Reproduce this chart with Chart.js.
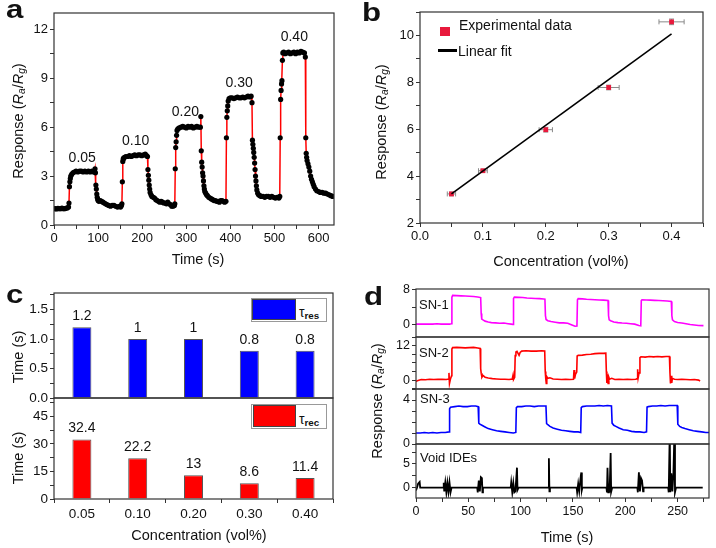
<!DOCTYPE html>
<html>
<head>
<meta charset="utf-8">
<script src="https://cdn.jsdelivr.net/npm/chart.js@4.4.0/dist/chart.umd.min.js"></script>
<style>
body{margin:0;width:716px;height:548px;position:relative;background:#fff;font-family:'Liberation Sans',Arial,sans-serif;color:#111;overflow:hidden}
canvas{position:absolute}
.t{position:absolute;white-space:nowrap;line-height:1}
.rot{transform:translate(-50%,-50%) rotate(-90deg);font-size:14.5px}
.ctr{transform:translate(-50%,-50%);font-size:14.5px}
.lft{transform:translate(0,-50%)}
.let{font-weight:bold;font-size:26px;transform:scaleX(1.2);transform-origin:0 0}
sub{font-size:70%;vertical-align:-0.25em;line-height:0}
.box{position:absolute;border:1px solid #999;background:#fff}
.sw{position:absolute;border:1px solid #444}
</style>
</head>
<body>
<canvas id="ca"></canvas>
<canvas id="cb"></canvas>
<canvas id="cc1"></canvas>
<canvas id="cc2"></canvas>
<canvas id="cd1"></canvas>
<canvas id="cd2"></canvas>
<canvas id="cd3"></canvas>
<canvas id="cd4"></canvas>

<!-- panel letters -->
<div class="t let" style="left:6px;top:-4px">a</div>
<div class="t let" style="left:362px;top:-1px">b</div>
<div class="t let" style="left:6px;top:281px">c</div>
<div class="t let" style="left:364px;top:283px">d</div>

<!-- axis titles -->
<div class="t rot" style="left:18px;top:121px">Response (<i>R</i><sub><i>a</i></sub>/<i>R</i><sub><i>g</i></sub>)</div>
<div class="t ctr" style="left:198px;top:259px">Time (s)</div>
<div class="t rot" style="left:381px;top:122px">Response (<i>R</i><sub><i>a</i></sub>/<i>R</i><sub><i>g</i></sub>)</div>
<div class="t ctr" style="left:561px;top:261px">Concentration (vol%)</div>
<div class="t rot" style="left:18px;top:357px">Time (s)</div>
<div class="t rot" style="left:18px;top:458px">Time (s)</div>
<div class="t ctr" style="left:199px;top:535px">Concentration (vol%)</div>
<div class="t rot" style="left:377px;top:401px">Response (<i>R</i><sub><i>a</i></sub>/<i>R</i><sub><i>g</i></sub>)</div>
<div class="t ctr" style="left:567px;top:537px">Time (s)</div>

<!-- panel b legend -->
<div style="position:absolute;left:440px;top:27px;width:10px;height:9px;background:#e8193c"></div>
<div class="t lft" style="left:459px;top:25px;font-size:14px">Experimental data</div>
<div style="position:absolute;left:438px;top:49px;width:19px;height:3px;background:#000"></div>
<div class="t lft" style="left:458px;top:51px;font-size:14px">Linear fit</div>

<!-- panel c legends -->
<div class="box" style="left:251px;top:298px;width:74px;height:22px"></div>
<div class="sw" style="left:252px;top:299px;width:42px;height:19px;background:#0000ff"></div>
<div class="t lft" style="left:299px;top:312px;font-size:14px">τ<sub><b>res</b></sub></div>
<div class="box" style="left:251px;top:404px;width:74px;height:23px"></div>
<div class="sw" style="left:253px;top:405px;width:41px;height:20px;background:#ff0000"></div>
<div class="t lft" style="left:299px;top:419px;font-size:14px">τ<sub><b>rec</b></sub></div>

<!-- panel d labels -->
<div class="t lft" style="left:419px;top:304px;font-size:13px">SN-1</div>
<div class="t lft" style="left:419px;top:352px;font-size:13px">SN-2</div>
<div class="t lft" style="left:420px;top:398px;font-size:13px">SN-3</div>
<div class="t lft" style="left:420px;top:457px;font-size:13px">Void IDEs</div>

<script>
// ---- panel a: dynamic response (time s, Ra/Rg)
const aSeries = [
  [0,1.0],[3,1.0],[6,0.98],[9,1.02],[12,1.0],[15,1.0],[18,1.03],[21,1.0],[24,1.0],[27,1.02],[30,1.05],[33,1.1],
  [34,1.35],[35,2.35],[36,2.65],[37,2.85],[38,3.0],[40,3.1],[43,3.2],[46,3.25],[50,3.3],[54,3.25],[58,3.3],[62,3.3],
  [66,3.25],[70,3.3],[74,3.25],[78,3.3],[82,3.25],[86,3.3],[90,3.25],[92,3.3],[93,3.45],[94,3.2],[95,2.45],[96,2.2],
  [97,1.9],[98,1.7],[99,1.6],[100,1.5],[102,1.45],[105,1.5],[108,1.45],[111,1.4],[114,1.35],[117,1.3],[120,1.25],
  [124,1.2],[128,1.15],[132,1.2],[136,1.2],[140,1.15],[144,1.1],[148,1.15],[151,1.1],[153,1.2],[154,1.3],
  [155,2.65],[156,3.9],[157,4.05],[158,4.1],[160,4.15],[163,4.2],[167,4.2],[171,4.25],[175,4.2],[179,4.25],[183,4.3],
  [187,4.25],[191,4.3],[195,4.3],[199,4.25],[203,4.3],[207,4.35],[210,4.25],[212,4.2],[213,3.4],[214,3.05],[215,2.75],
  [216,2.45],[217,2.2],[218,2.0],[220,1.85],[222,1.75],[225,1.7],[228,1.65],[231,1.55],[234,1.5],[237,1.45],[240,1.4],
  [243,1.45],[246,1.4],[249,1.35],[252,1.35],[255,1.3],[258,1.4],[261,1.3],[264,1.25],[267,1.15],[270,1.15],[273,1.2],
  [274,1.3],[275,3.45],[276,4.75],[277,5.1],[278,5.5],[279,5.8],[281,5.9],[284,5.95],[288,6.0],[292,6.05],[296,6.0],
  [300,5.95],[304,6.05],[308,6.0],[312,6.05],[316,5.95],[320,6.0],[324,6.05],[328,6.0],[332,6.0],[333,6.65],[334,4.55],
  [335,3.85],[336,3.55],[337,3.2],[338,3.0],[339,2.7],[340,2.4],[341,2.2],[342,2.05],[344,1.95],[346,1.85],[348,1.8],
  [351,1.7],[354,1.65],[357,1.6],[360,1.55],[363,1.5],[366,1.5],[369,1.45],[372,1.45],[375,1.4],[378,1.5],[381,1.5],
  [384,1.45],[387,1.4],[390,1.45],[391,5.35],[392,6.6],[393,7.0],[394,7.3],[395,7.6],[397,7.75],[400,7.8],[404,7.8],
  [408,7.75],[412,7.8],[416,7.85],[420,7.8],[424,7.8],[428,7.85],[432,7.8],[436,7.85],[440,7.9],[444,7.85],[447,7.9],
  [449,7.5],[450,5.2],[451,4.95],[452,4.7],[453,4.45],[454,4.15],[455,3.8],[456,3.4],[457,3.0],[458,2.7],[459,2.4],
  [460,2.15],[462,1.95],[464,1.85],[467,1.8],[470,1.75],[474,1.75],[478,1.7],[482,1.75],[486,1.75],[490,1.7],[494,1.75],
  [498,1.7],[502,1.65],[506,1.7],[510,1.65],[512,1.75],[513,5.35],[514,7.7],[515,8.25],[516,8.65],[517,8.85],[518,10.1],
  [519,10.55],[521,10.6],[524,10.5],[528,10.55],[532,10.6],[536,10.5],[540,10.55],[544,10.6],[548,10.5],[552,10.6],
  [556,10.55],[560,10.65],[564,10.6],[568,10.55],[570,10.3],[571,5.35],[572,4.4],[573,4.15],[574,3.95],[576,3.75],
  [578,3.55],[580,3.3],[582,3.0],[584,2.8],[586,2.65],[588,2.5],[590,2.35],[593,2.2],[596,2.1],[600,2.05],[604,2.0],
  [608,2.0],[612,1.95],[616,1.95],[620,1.9],[624,1.85],[628,1.8],[632,1.75]
];
const aLabels = ['0.05', '0.10', '0.20', '0.30', '0.40'];
const aLabelTime = [64, 185, 298, 420, 545];
const aLabelResp = [4.07, 5.12, 6.91, 8.7, 11.52];

// ---- panel b: response vs concentration
const bConc = [0.05, 0.1, 0.2, 0.3, 0.4];
const bResp = [3.24, 4.23, 5.98, 7.78, 10.58];
const bConcErr = [0.0066, 0.007, 0.0106, 0.0167, 0.02];
const bRespErr = [0.08, 0.06, 0.1, 0.1, 0.12];
const fitConc = [0.05, 0.4];
const fitResp = [3.24, 10.07];

// ---- panel c: response / recovery times
const cLabels = ['0.05', '0.10', '0.20', '0.30', '0.40'];
const tauRes = [1.2, 1, 1, 0.8, 0.8];
const tauRec = [32.4, 22.2, 13, 8.6, 11.4];

// ---- panel d: repeatability of sensors
const sn1 = [
  [0,0],[4,0.05],[8,0],[12,0.05],[16,0],[20,0.1],[24,0],[28,0.05],[32,0],[33.8,0.1],[34.3,6.3],[35,6.7],[39,6.65],
  [43,6.6],[47,6.55],[51,6.5],[55,6.45],[59,6.35],[61.8,6.2],[62.3,2.5],[62.8,1.2],[64,1.0],[66,0.7],[69,0.5],[72,0.35],
  [76,0.3],[80,0.2],[84,0.25],[88,0.1],[91,0],[92.7,-0.1],[93.2,6.0],[94,6.3],[98,6.25],[102,6.2],[106,6.1],[110,6.05],
  [114,6.0],[118,5.95],[122,5.85],[123.2,5.8],[123.7,2.0],[124.3,1.1],[126,0.8],[129,0.6],[133,0.45],[137,0.3],[141,0.3],
  [145,0.2],[149,-0.2],[152,-0.5],[153.8,-0.45],[154.3,5.7],[155,5.95],[159,5.9],[163,5.8],[167,5.75],[171,5.7],[175,5.65],
  [179,5.6],[183.5,5.5],[184,2.0],[184.6,1.0],[186,0.8],[189,0.5],[193,0.35],[197,0.25],[201,0.2],[205,0.1],[209,0],
  [213,-0.3],[214.8,-0.4],[215.3,5.5],[216,5.7],[220,5.65],[224,5.6],[228,5.55],[232,5.5],[236,5.45],[240,5.4],[244,5.3],
  [244.5,2.0],[245.1,1.0],[247,0.6],[250,0.4],[254,0.25],[258,0.1],[262,-0.1],[266,-0.2],[270,-0.3],[274.7,-0.35]
];
const sn2 = [
  [0,-0.5],[2,-0.1],[5,0.2],[9,0.1],[13,0.3],[17,0.2],[21,0.25],[25,0.3],[29,0.2],[31,0.4],[31.5,2.5],[32,-1.2],[33,0.5],
  [34,1.5],[34.3,10.8],[35,11.3],[39,11.4],[43,11.3],[47,11.2],[51,11.3],[55,11.4],[59,11.2],[61.3,11.0],[61.8,4.0],
  [62.3,2.4],[63,1.0],[64,1.6],[66,1.0],[69,0.7],[73,0.5],[77,0.4],[81,0.3],[85,0.3],[89,0.2],[92,0.4],[92.8,1.8],
  [93.3,0.3],[94.3,1.0],[94.8,8.5],[95.5,9.8],[96.5,10.0],[97.5,9.3],[98.5,8.6],[99.5,9.6],[101,10.1],[105,10.2],
  [110,10.1],[115,10.1],[120,10.2],[123,10.1],[123.5,3.0],[124,0.5],[124.5,-1.2],[125,1.2],[126,0.6],[128,0.8],[131,0.4],
  [135,0.3],[139,0.2],[143,0.3],[147,0.2],[150.5,0.3],[151,3.5],[151.6,0.5],[152.4,2.0],[153.6,2.8],[154,8.4],[155,8.6],
  [159,8.7],[163,8.9],[167,9.0],[171,9.2],[175,9.3],[179,9.3],[181.4,9.4],[181.9,3.0],[182.4,-1.0],[183,2.0],[183.6,-1.2],
  [184.3,1.0],[185,0.3],[187,0.6],[190,0.2],[194,0.3],[198,0.2],[202,0.3],[206,0.2],[210,0.3],[211.4,0.5],[211.8,3.8],
  [212.3,0.8],[213.2,2.5],[214,7.8],[215,8.1],[219,8.0],[223,8.2],[227,8.1],[231,8.2],[235,8.1],[239,8.2],[242.2,8.2],
  [242.7,2.5],[243.2,-1.2],[243.8,1.5],[244.4,-1.0],[245,0.6],[247,0.3],[250,0.2],[254,0.3],[258,0.2],[262,0.1],
  [266,0.2],[270,0],[271.5,-0.3]
];
const sn3 = [
  [0,1.0],[4,1.0],[8,1.05],[12,1.0],[16,1.05],[20,1.0],[24,1.05],[28,1.05],[31.6,1.1],[32.1,3.2],[33,3.35],[37,3.4],
  [41,3.45],[45,3.4],[49,3.4],[53,3.45],[57,3.45],[59.4,3.4],[60,1.9],[61,1.8],[63,1.7],[66,1.55],[69,1.4],[73,1.3],
  [77,1.2],[81,1.15],[85,1.1],[89,1.05],[93,1.0],[95.4,1.05],[95.9,3.3],[97,3.4],[101,3.4],[105,3.45],[109,3.45],
  [113,3.4],[117,3.45],[121,3.45],[124.2,3.45],[124.8,1.85],[126,1.75],[128,1.6],[131,1.45],[135,1.35],[139,1.25],
  [143,1.2],[147,1.15],[151,1.1],[155,1.1],[157.4,1.05],[157.9,3.3],[159,3.4],[163,3.45],[167,3.45],[171,3.45],
  [175,3.5],[179,3.45],[183,3.5],[186.8,3.45],[187.4,1.9],[189,1.7],[191,1.6],[194,1.45],[198,1.3],[202,1.25],
  [206,1.15],[210,1.1],[214,1.1],[218,1.05],[220.3,1.1],[220.8,3.35],[222,3.4],[226,3.45],[230,3.45],[234,3.5],
  [238,3.45],[242,3.5],[246,3.5],[249.6,3.5],[250.2,1.8],[252,1.6],[254,1.5],[257,1.4],[261,1.3],[265,1.2],[269,1.15],
  [273,1.1],[277,1.05],[280,1.05]
];
const voidIde = [
  [0,-0.6],[1,0],[2,0.8],[3.5,1.2],[4,0],[26,0],[26.5,1.0],[27,-0.8],[28,1.1],[29,-1.0],[30,1.0],[31,-0.9],[32,1.1],
  [33,-1.0],[34,0],[58.5,0],[59,-1.0],[60,1.5],[61,-0.8],[62,2.2],[63,2.0],[63.5,-1.0],[64,0],[90.5,0],[91,1.1],
  [92,-1.0],[93,1.0],[94,-1.0],[95,-0.8],[96.5,4.2],[97,-0.5],[98,0],[126.8,0],[127,6.2],[127.5,-0.8],[128,0],[153.5,0],
  [154,-1.0],[155,0.8],[156,-0.8],[157.5,2.5],[158,3.2],[158.5,-0.5],[159,0],[182,0],[182.5,-1.0],[183,4.2],[183.7,-1.0],
  [184.3,0.8],[185,-1.0],[186,7.3],[186.5,-0.9],[187.5,0],[211.5,0],[212,-1.0],[213,3.2],[214,-0.8],[215,2.0],[216,1.5],
  [217,-0.8],[217.5,0],[241,0],[241.5,-1.0],[242.5,12],[243,-1.0],[244,3.0],[245,-0.8],[246,3.0],[247,12],[247.5,-1.0],
  [248.5,0],[274,0]
];

const FONT = "'Liberation Sans', Arial, sans-serif";
const PAD = 16, YW = 40, XH = 24;

function axis(min, max, step, every, digits, size, show) {
  return {
    type: 'linear', min: min, max: max, display: show !== false,
    border: { display: false },
    grid: { drawOnChartArea: false, tickLength: 4, color: '#333' },
    ticks: {
      stepSize: step, includeBounds: false, autoSkip: false, maxRotation: 0, padding: 2,
      color: '#111', font: { family: FONT, size: size },
      callback: v => Math.abs(v / every - Math.round(v / every)) < 1e-6 ? v.toFixed(digits) : ''
    }
  };
}

const frame = {
  id: 'frame',
  afterDatasetsDraw(chart) {
    const a = chart.chartArea, c = chart.ctx;
    c.save();
    c.strokeStyle = '#333';
    c.lineWidth = 1.2;
    c.strokeRect(a.left, a.top, a.right - a.left, a.bottom - a.top);
    c.restore();
  }
};

function make(id, box, hasX, config) {
  const cv = document.getElementById(id);
  const xH = hasX ? XH : 0;
  const w = box[2] - box[0] + YW + 2 * PAD, h = box[3] - box[1] + xH + 2 * PAD;
  cv.style.left = (box[0] - YW - PAD) + 'px';
  cv.style.top = (box[1] - PAD) + 'px';
  cv.style.width = w + 'px';
  cv.style.height = h + 'px';
  cv.width = w; cv.height = h;
  const o = config.options;
  o.responsive = false;
  o.animation = false;
  o.events = [];
  o.layout = { padding: PAD };
  o.plugins = { legend: { display: false }, tooltip: { enabled: false } };
  o.scales.x.afterFit = s => { s.height = xH; };
  o.scales.y.afterFit = s => { s.width = YW; };
  config.plugins = [frame].concat(config.plugins || []);
  return new Chart(cv, config);
}

const toXY = arr => arr.map(p => ({ x: p[0], y: p[1] }));

// panel a
const aText = {
  id: 'aText',
  afterDatasetsDraw(chart) {
    const { ctx, scales: { x, y } } = chart;
    ctx.save();
    ctx.fillStyle = '#111';
    ctx.font = '14px ' + FONT;
    ctx.textAlign = 'center';
    ctx.textBaseline = 'middle';
    aLabels.forEach((t, i) => ctx.fillText(t, x.getPixelForValue(aLabelTime[i]), y.getPixelForValue(aLabelResp[i])));
    ctx.restore();
  }
};
make('ca', [54, 13, 334, 225], true, {
  type: 'line',
  data: { datasets: [{
    data: toXY(aSeries), borderColor: '#ff0000', borderWidth: 1.5, tension: 0,
    pointRadius: 2.6, pointBackgroundColor: '#000', pointBorderWidth: 0
  }] },
  options: { scales: { x: axis(0, 635, 50, 100, 0, 13), y: axis(0, 13, 1.5, 3, 0, 13) } },
  plugins: [aText]
});

// panel b
const errBars = {
  id: 'errBars',
  beforeDatasetsDraw(chart) {
    const { ctx, scales: { x, y } } = chart;
    ctx.save();
    ctx.strokeStyle = '#8a8a8a';
    ctx.lineWidth = 1;
    bConc.forEach((c, i) => {
      const px = x.getPixelForValue(c), py = y.getPixelForValue(bResp[i]);
      const x0 = x.getPixelForValue(c - bConcErr[i]), x1 = x.getPixelForValue(c + bConcErr[i]);
      const y0 = y.getPixelForValue(bResp[i] - bRespErr[i]), y1 = y.getPixelForValue(bResp[i] + bRespErr[i]);
      ctx.beginPath();
      ctx.moveTo(x0, py); ctx.lineTo(x1, py);
      ctx.moveTo(x0, py - 2.5); ctx.lineTo(x0, py + 2.5);
      ctx.moveTo(x1, py - 2.5); ctx.lineTo(x1, py + 2.5);
      ctx.moveTo(px, y0); ctx.lineTo(px, y1);
      ctx.moveTo(px - 2.5, y0); ctx.lineTo(px + 2.5, y0);
      ctx.moveTo(px - 2.5, y1); ctx.lineTo(px + 2.5, y1);
      ctx.stroke();
    });
    ctx.restore();
  }
};
make('cb', [420, 12, 703, 223], true, {
  type: 'line',
  data: { datasets: [
    { data: fitConc.map((c, i) => ({ x: c, y: fitResp[i] })), borderColor: '#000', borderWidth: 1.6, pointRadius: 0 },
    { data: bConc.map((c, i) => ({ x: c, y: bResp[i] })), showLine: false, pointStyle: 'rect',
      pointRadius: 3.4, pointBackgroundColor: '#e8193c', pointBorderWidth: 0 }
  ] },
  options: { scales: { x: axis(0, 0.45, 0.05, 0.1, 1, 13), y: axis(2, 11, 1, 2, 0, 13) } },
  plugins: [errBars]
});

// panel c
const barText = {
  id: 'barText',
  afterDatasetsDraw(chart) {
    const ctx = chart.ctx, vals = chart.data.datasets[0].data;
    ctx.save();
    ctx.fillStyle = '#111';
    ctx.font = '14px ' + FONT;
    ctx.textAlign = 'center';
    ctx.textBaseline = 'middle';
    chart.getDatasetMeta(0).data.forEach((bar, i) => ctx.fillText(String(vals[i]), bar.x, bar.y - 11));
    ctx.restore();
  }
};
function catAxis(show) {
  return {
    type: 'category', display: show, offset: true,
    border: { display: false },
    grid: { drawOnChartArea: false, tickLength: 4, color: '#333', offset: true },
    ticks: { color: '#111', font: { family: FONT, size: 13.5 }, padding: 3, maxRotation: 0 }
  };
}
function barSet(vals, color) {
  return { data: vals, backgroundColor: color, borderColor: '#555', borderWidth: 1,
    categoryPercentage: 1, barPercentage: 0.34 };
}
make('cc1', [54, 293, 333, 398], false, {
  type: 'bar',
  data: { labels: cLabels, datasets: [barSet(tauRes, '#0000ff')] },
  options: { scales: { x: catAxis(false), y: axis(0, 1.78, 0.25, 0.5, 1, 13.5) } },
  plugins: [barText]
});
make('cc2', [54, 398, 333, 499], true, {
  type: 'bar',
  data: { labels: cLabels, datasets: [barSet(tauRec, '#ff0000')] },
  options: { scales: { x: catAxis(true), y: axis(0, 55, 7.5, 15, 0, 13.5) } },
  plugins: [barText]
});

// panel d
function lineSet(arr, color, width) {
  return { data: toXY(arr), borderColor: color, borderWidth: width, pointRadius: 0, tension: 0 };
}
const dx = show => axis(0, 280, 25, 50, 0, 12.5, show);
make('cd1', [416, 289, 709, 337], false, {
  type: 'line', data: { datasets: [lineSet(sn1, '#ff00ff', 1.6)] },
  options: { scales: { x: dx(false), y: axis(-3, 8.2, 4, 8, 0, 12.5) } }
});
make('cd2', [416, 337, 709, 389], false, {
  type: 'line', data: { datasets: [lineSet(sn2, '#ff0000', 1.6)] },
  options: { scales: { x: dx(false), y: axis(-3.1, 15, 3, 12, 0, 12.5) } }
});
make('cd3', [416, 389, 709, 444], false, {
  type: 'line', data: { datasets: [lineSet(sn3, '#0000ff', 1.6)] },
  options: { scales: { x: dx(false), y: axis(0, 5, 1, 4, 0, 12.5) } }
});
make('cd4', [416, 444, 709, 498], true, {
  type: 'line', data: { datasets: [lineSet(voidIde, '#000', 1.8)] },
  options: { scales: { x: dx(true), y: axis(-2.2, 9.2, 2.5, 5, 0, 12.5) } }
});
</script>
</body>
</html>
